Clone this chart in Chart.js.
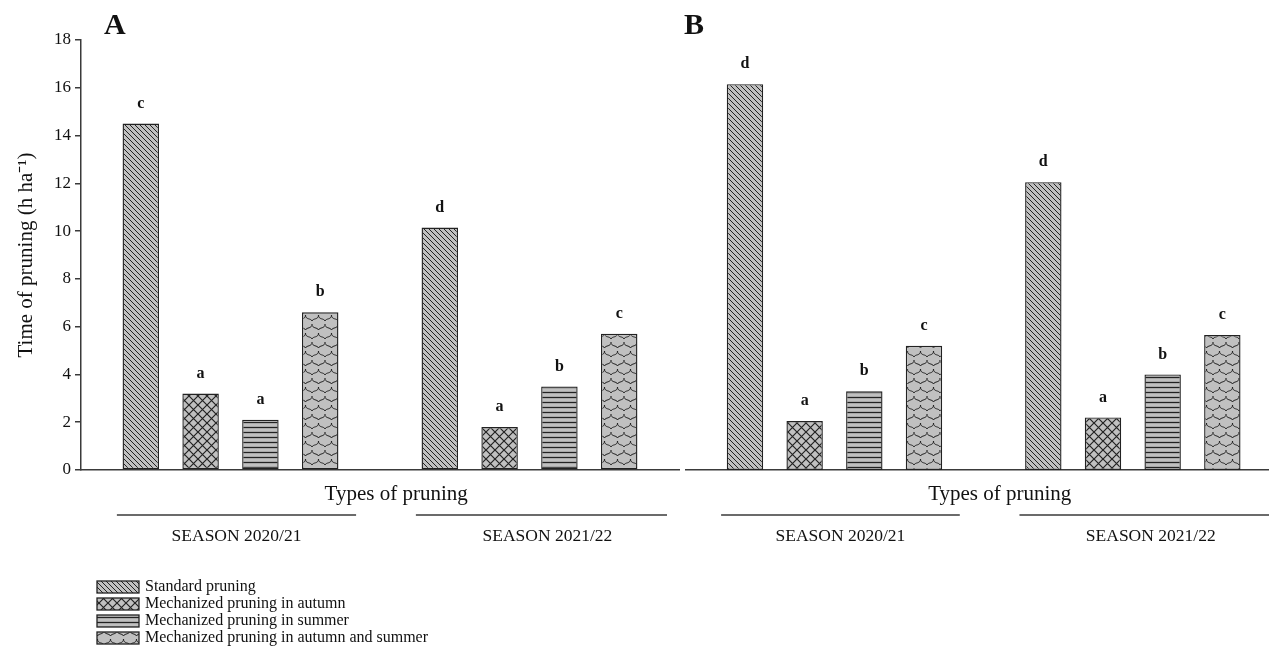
<!DOCTYPE html>
<html>
<head>
<meta charset="utf-8">
<script src="https://cdn.jsdelivr.net/npm/chart.js@4.4.0/dist/chart.umd.min.js"></script>
<style>
  html, body { margin: 0; padding: 0; background: #fff; overflow: hidden; }
  #wrap { position: relative; width: 1269px; height: 651px; overflow: hidden; }
  #boxA { position: absolute; left: 0; top: 0; width: 685px; height: 651px; }
  #boxB { position: absolute; left: 680px; top: 0; width: 610px; height: 651px; }
</style>
</head>
<body>
<div id="wrap">
  <div id="boxA"><canvas id="chartA"></canvas></div>
  <div id="boxB"><canvas id="chartB"></canvas></div>
</div>
<script>
// data (h ha-1)
const pruningTypes = [
  'Standard pruning',
  'Mechanized pruning in autumn',
  'Mechanized pruning in summer',
  'Mechanized pruning in autumn and summer'
];
const seasons = ['SEASON 2020/21', 'SEASON 2021/22'];
const xTitle = 'Types of pruning';

const timeA2020 = [14.5, 3.2, 2.1, 6.6];
const timeA2021 = [10.15, 1.8, 3.5, 5.7];
const timeB2020 = [16.15, 2.05, 3.3, 5.2];
const timeB2021 = [12.05, 2.2, 4.0, 5.65];

const lettersA2020 = ['c', 'a', 'a', 'b'];
const lettersA2021 = ['d', 'a', 'b', 'c'];
const lettersB2020 = ['d', 'a', 'b', 'c'];
const lettersB2021 = ['d', 'a', 'b', 'c'];

const yMin = 0, yMax = 18, yStep = 2;

// 11 slots: empty, 4 bars, empty, 4 bars, empty
const slots = ['', ...pruningTypes, '', ...pruningTypes, ''];
const firstSlot = [1, 6];

const SERIF = "'Liberation Serif', 'Times New Roman', serif";
const INK = '#222';
const AXIS = '#3a3a3a';
const FILL = '#c0c0c0';

function makePattern(kind) {
  const c = document.createElement('canvas');
  const g = c.getContext('2d');
  const size = [[5, 5], [9, 9], [4, 5.5], [13, 18]][kind];
  const w = size[0], h = size[1];
  c.width = w; c.height = h;
  g.fillStyle = FILL;
  g.fillRect(0, 0, w, h);
  g.strokeStyle = INK;
  g.lineWidth = 1;
  g.beginPath();
  if (kind === 0) {
    g.moveTo(-1, -1); g.lineTo(w + 1, h + 1);
    g.moveTo(-1, h - 1); g.lineTo(1, h + 1);
    g.moveTo(w - 1, -1); g.lineTo(w + 1, 1);
  } else if (kind === 1) {
    g.lineWidth = 1.2;
    g.moveTo(0, 0); g.lineTo(w, h);
    g.moveTo(w, 0); g.lineTo(0, h);
  } else if (kind === 2) {
    g.lineWidth = 1.3;
    g.moveTo(0, 2.5); g.lineTo(w, 2.5);
  } else {
    // shingle rows: a curl in each half-offset row
    const r = 6.5;
    const row = (cx, cy) => {
      g.moveTo(cx - r, cy);
      g.bezierCurveTo(cx - r, cy + 5, cx - 1, cy + 3, cx, cy + 6);
      g.moveTo(cx, cy + 6);
      g.bezierCurveTo(cx + 1, cy + 3, cx + r, cy + 5, cx + r, cy);
    };
    row(6.5, 0);
    row(0, 9);
    row(13, 9);
    row(6.5, 18);
    row(0, -9);
    row(13, -9);
  }
  g.stroke();
  return g.createPattern(c, 'repeat');
}
const patterns = [0, 1, 2, 3].map(makePattern);

// letters of significance above each bar
const letterPlugin = {
  id: 'letters',
  afterDatasetsDraw(chart) {
    const { ctx } = chart;
    const letters = chart.options.plugins.letters.byseason;
    ctx.save();
    ctx.font = 'bold 16px ' + SERIF;
    ctx.fillStyle = '#111';
    ctx.textAlign = 'center';
    ctx.textBaseline = 'middle';
    chart.data.datasets.forEach((ds, i) => {
      chart.getDatasetMeta(i).data.forEach((bar, k) => {
        if (ds.data[k] == null) return;
        const s = k < 5 ? 0 : 1;
        ctx.fillText(letters[s][i], bar.x, bar.y - 20);
      });
    });
    ctx.restore();
  }
};

// axis title, season rules and labels under the axis, plus panel letter
const seasonPlugin = {
  id: 'seasons',
  afterDraw(chart) {
    const { ctx } = chart;
    const x = chart.scales.x;
    const spans = [[0.6, 4.6, 2.6], [5.6, 9.8, 7.8]];
    ctx.save();
    ctx.fillStyle = '#111';
    ctx.textAlign = 'center';
    ctx.textBaseline = 'middle';
    ctx.font = '21px ' + SERIF;
    ctx.fillText(xTitle, x.getPixelForValue(5.27), 494);
    ctx.strokeStyle = AXIS;
    ctx.lineWidth = 1.3;
    ctx.font = '17.5px ' + SERIF;
    spans.forEach((sp, s) => {
      ctx.beginPath();
      ctx.moveTo(x.getPixelForValue(sp[0]), 515);
      ctx.lineTo(x.getPixelForValue(sp[1]), 515);
      ctx.stroke();
      ctx.fillText(seasons[s], x.getPixelForValue(sp[2]), 536);
    });
    const p = chart.options.plugins.seasons;
    ctx.font = 'bold 30px ' + SERIF;
    ctx.textAlign = 'left';
    ctx.fillText(p.panel, p.panelX, 26);
    ctx.restore();
  }
};

// stacked legend in the lower left corner of panel A
const boxLegendPlugin = {
  id: 'boxLegend',
  afterDraw(chart) {
    if (!chart.options.plugins.boxLegend.show) return;
    const { ctx } = chart;
    ctx.save();
    ctx.font = '16px ' + SERIF;
    ctx.textBaseline = 'middle';
    ctx.textAlign = 'left';
    chart.data.datasets.forEach((ds, i) => {
      const y = 587 + i * 17;
      ctx.fillStyle = ds.backgroundColor;
      ctx.fillRect(97, y - 6, 42, 12);
      ctx.strokeStyle = INK;
      ctx.lineWidth = 1.3;
      ctx.strokeRect(97, y - 6, 42, 12);
      ctx.fillStyle = '#111';
      ctx.fillText(ds.label, 145, y);
    });
    ctx.restore();
  }
};

function buildChart(id, s1, s2, l1, l2, panel, isLeft) {
  const datasets = pruningTypes.map((name, i) => ({
    label: name,
    data: slots.map((_, k) => k === firstSlot[0] + i ? s1[i] : (k === firstSlot[1] + i ? s2[i] : null)),
    backgroundColor: patterns[i],
    borderColor: INK,
    borderWidth: 1.4,
    borderSkipped: false,
    grouped: false,
    categoryPercentage: 1,
    barPercentage: 0.61
  }));

  return new Chart(document.getElementById(id), {
    type: 'bar',
    data: { labels: slots, datasets },
    plugins: [letterPlugin, seasonPlugin, boxLegendPlugin],
    options: {
      responsive: true,
      maintainAspectRatio: false,
      animation: false,
      events: [],
      layout: {
        padding: isLeft ? { top: 40, right: 6, left: 0, bottom: 0 } : { top: 40, right: 8, left: 5.3, bottom: 0 }
      },
      plugins: {
        legend: { display: false },
        tooltip: { enabled: false },
        letters: { byseason: [l1, l2] },
        seasons: { panel, panelX: isLeft ? 104 : 4 },
        boxLegend: { show: isLeft }
      },
      scales: {
        x: {
          type: 'category',
          offset: false,
          grid: { display: false },
          border: { display: true, color: AXIS, width: 1.5 },
          ticks: { display: false },
          afterFit: s => { s.height = 181; }
        },
        y: {
          display: isLeft,
          min: yMin,
          max: yMax,
          afterFit: s => { s.width = isLeft ? 81 : 0; },
          ticks: {
            stepSize: yStep,
            color: '#111',
            padding: 4,
            font: { family: SERIF, size: 17 }
          },
          grid: {
            drawOnChartArea: false,
            drawTicks: true,
            tickLength: 6,
            color: AXIS,
            lineWidth: 1.5
          },
          border: { display: true, color: AXIS, width: 1.5 },
          title: {
            display: true,
            text: 'Time of pruning (h ha\u207B\u00B9)',
            color: '#111',
            font: { family: SERIF, size: 21 },
            padding: { top: 14 }
          }
        }
      }
    }
  });
}

buildChart('chartA', timeA2020, timeA2021, lettersA2020, lettersA2021, 'A', true);
buildChart('chartB', timeB2020, timeB2021, lettersB2020, lettersB2021, 'B', false);
</script>
</body>
</html>
